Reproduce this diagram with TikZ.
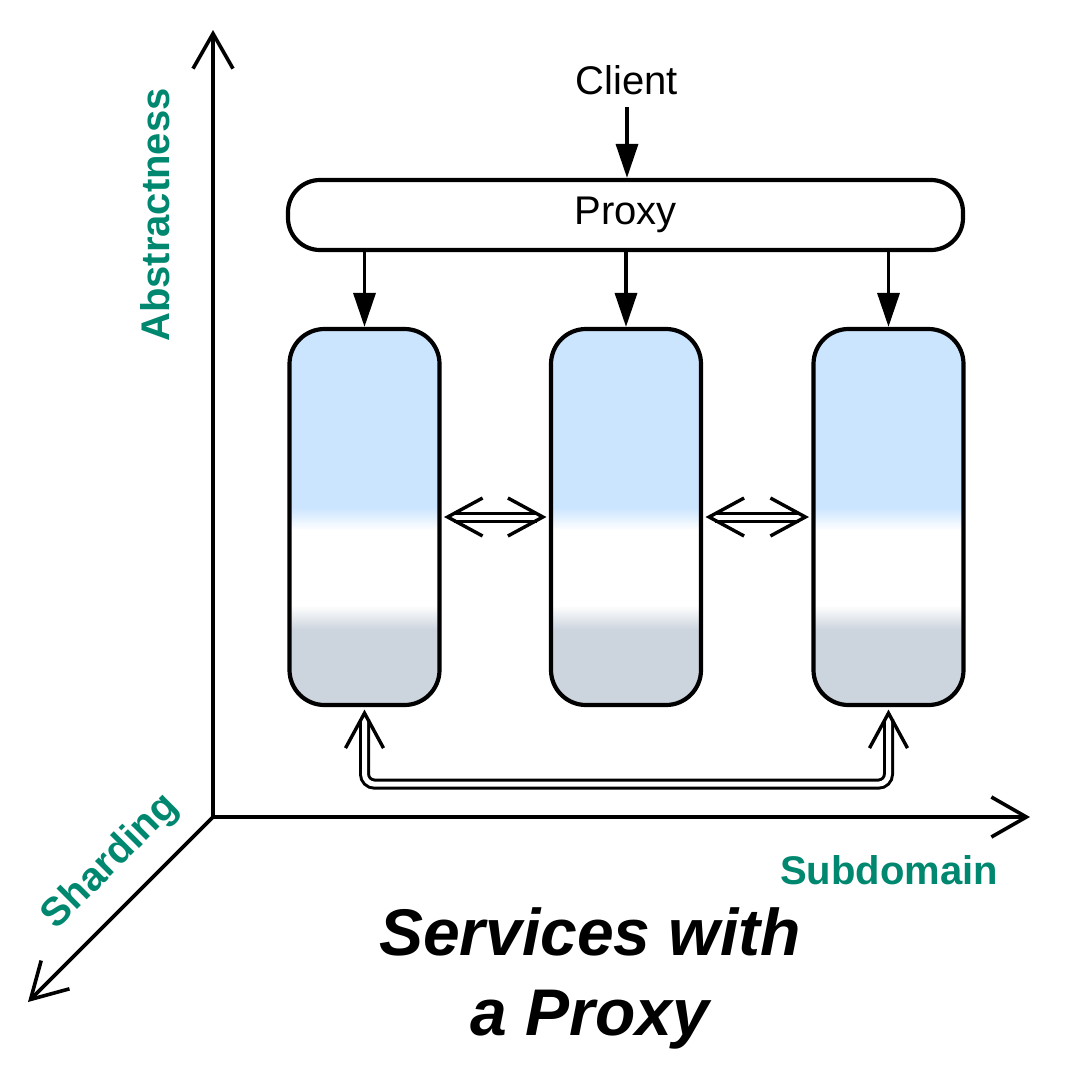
\documentclass[tikz,border=0pt]{standalone}
\usepackage{fontspec}
\setmainfont{Liberation Sans}
\usetikzlibrary{arrows.meta,calc}
\definecolor{svcblue}{HTML}{CCE5FF}
\definecolor{svcgray}{HTML}{CCD4DD}
\definecolor{axisteal}{HTML}{00876F}
\begin{document}
\begin{tikzpicture}[x=1pt,y=-1pt,
  svc/.style={draw, line width=4.2pt, rounded corners=35pt,
    minimum width=150pt, minimum height=376pt, inner sep=0pt,
    path picture={
      \path (path picture bounding box.north west) coordinate (pA)
            (path picture bounding box.south east) coordinate (pB);
      \coordinate (q1) at ($(pA)!0.475!(pB)$);
      \coordinate (q2) at ($(pA)!0.535!(pB)$);
      \coordinate (q3) at ($(pA)!0.735!(pB)$);
      \coordinate (q4) at ($(pA)!0.80!(pB)$);
      \fill[svcblue, sharp corners] (pA) rectangle (q1 -| pB);
      \shade[top color=svcblue, bottom color=white, sharp corners] (q1 -| pA) rectangle (q2 -| pB);
      \fill[white, sharp corners] (q2 -| pA) rectangle (q3 -| pB);
      \shade[top color=white, bottom color=svcgray, sharp corners] (q3 -| pA) rectangle (q4 -| pB);
      \fill[svcgray, sharp corners] (q4 -| pA) rectangle (pB);
    }},
  proxybox/.style={draw, line width=4.2pt, rounded corners=32pt, fill=white,
    minimum width=675pt, minimum height=70pt, inner sep=0pt,
    font=\fontsize{40}{48}\selectfont},
  plain/.style={font=\fontsize{40}{48}\selectfont, inner sep=0pt},
  axislabel/.style={font=\fontsize{40}{48}\selectfont\bfseries, text=axisteal, inner sep=0pt},
  titletext/.style={font=\fontsize{66}{80}\selectfont\bfseries\itshape, inner sep=0pt},
  flow/.style={line width=3.4pt, -{Triangle[length=34pt,width=22pt]}},
  dbl/.style={line width=3pt, double=white, double distance=5pt},
  axisline/.style={line width=3.6pt},
  barb/.tip={Straight Barb[length=35pt,width=40pt]},
  pics/chev/.style={code={\draw[line width=3.4pt, line join=miter] (35,-19) -- (0,0) -- (35,19);}}
]
\useasboundingbox (0,0) rectangle (1065,1074);

% axes
\coordinate (O) at (213,817);
\coordinate (ytip) at (213,30);
\coordinate (xtip) at (1030,817);
\coordinate (ztip) at (28,1002);
\draw[axisline, barb-barb] (ytip) -- (O) -- (xtip);
\draw[axisline, -barb] (O) -- (ztip);

\node[axislabel, rotate=90] (labA) at (155,215) {Abstractness};
\node[axislabel] (labS) at (889,870) {Subdomain};
\node[axislabel, rotate=45] (labH) at (111,862) {Sharding};

% client and proxy
\node[plain] (client) at (627,80) {Client};
\node[proxybox] (proxy) at (625.5,215) {Proxy};
\draw[flow] ($(client.south)+(0,12)$) -- (client.south |- proxy.north);

% services
\node[svc] (b1) at (364.5,517) {};
\node[svc] (b2) at (626,517) {};
\node[svc] (b3) at (888.5,517) {};

\draw[flow] (proxy.south -| b1.north) -- (b1.north);
\draw[flow] (proxy.south -| b2.north) -- (b2.north);
\draw[flow] (proxy.south -| b3.north) -- (b3.north);

% horizontal double arrows
\draw[dbl] ($(b1.east)+(12,0)$) -- ($(b2.west)+(-12,0)$);
\pic at ($(b1.east)+(6,0)$) {chev};
\pic[rotate=180] at ($(b2.west)+(-6,0)$) {chev};
\draw[dbl] ($(b2.east)+(12,0)$) -- ($(b3.west)+(-12,0)$);
\pic at ($(b2.east)+(6,0)$) {chev};
\pic[rotate=180] at ($(b3.west)+(-6,0)$) {chev};

% bottom double connector
\draw[dbl, rounded corners=10pt] ($(b1.south)+(0,12)$) |- ($(b3.south)+(0,77)$) -- ($(b3.south)+(0,12)$);
\pic[rotate=-90] at ($(b1.south)+(0,6)$) {chev};
\pic[rotate=-90] at ($(b3.south)+(0,6)$) {chev};

% title
\node[titletext, anchor=base] (t1) at (590,955) {Services with};
\node[titletext, anchor=base] (t2) at (590,1035) {a Proxy};
\end{tikzpicture}
\end{document}
